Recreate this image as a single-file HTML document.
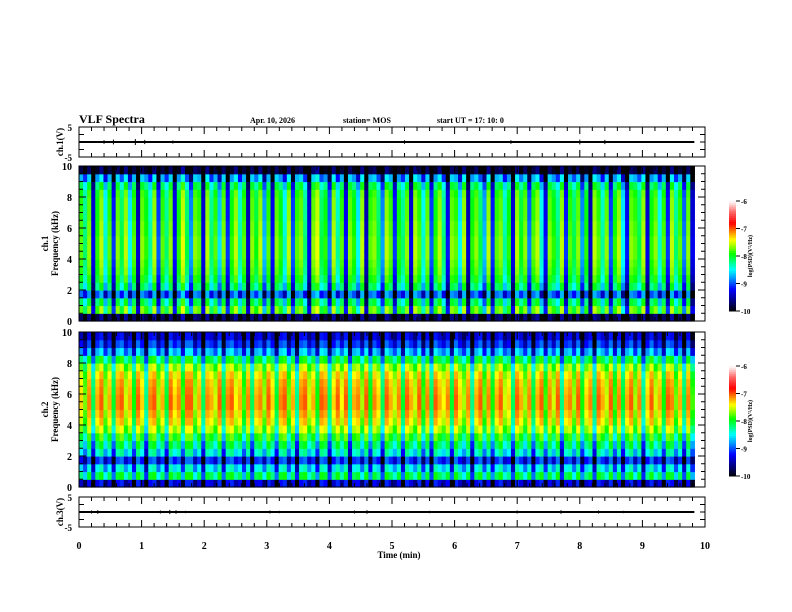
<!DOCTYPE html>
<html><head><meta charset="utf-8"><style>
html,body{margin:0;padding:0;background:#fff;width:792px;height:612px;overflow:hidden}
svg{display:block;font-family:"Liberation Serif",serif;font-weight:bold}
</style></head><body>
<svg id="chart" width="792" height="612" viewBox="0 0 792 612"></svg>
<script>
// ---- data ----
const timeTicks=[0,1,2,3,4,5,6,7,8,9,10];
const freqTicks=[0,2,4,6,8,10];
const cbTicks=[-6,-7,-8,-9,-10];
const ch1FreqProfile=[-9.8,-7.85,-8.2,-9.0,-8.25,-8.05,-7.95,-7.9,-7.85,-7.85,-7.85,-7.9,-7.9,-7.95,-7.95,-7.95,-8.0,-8.2,-8.8,-9.9];
const ch2FreqProfile=[-9.4,-8.2,-8.6,-9.2,-8.5,-8.25,-8.0,-7.7,-7.5,-7.4,-7.3,-7.3,-7.35,-7.4,-7.5,-7.75,-8.15,-8.8,-9.2,-9.45];
const ch1TimeMod=[0.1,-0.3,0.2,-1.4,0.0,0.3,-0.5,0.1,-1.2,0.2,-0.2,0.3,-0.6,0.1,-1.5,0.2,0.0,-0.4,0.3,-1.1,0.1,-0.3,0.2,-1.3,0.0,0.4,-0.2,-0.9,0.2,0.1,-1.4,0.3,-0.3,0.1,-0.7,0.2,-1.2,0.0,0.3,-0.4,0.1,-1.5,0.2,-0.1,0.3,-0.8,0.1,-1.3,0.2,0.0,-0.5,0.3,-1.1,0.1,0.2,-0.3,-1.4,0.2,0.4,-0.2,0.0,-1.0,0.3,-0.4,0.1,-1.3,0.2,0.0,-0.6,0.3,-1.5,0.1,0.2,-0.2,-0.9,0.3,0.1,-1.2,0.0,-0.3,0.2,-1.4,0.3,0.1,-0.5,0.2,-1.1,0.0,0.3,-0.3,-1.3,0.2,0.1,-0.6,0.3,-1.5,0.0,0.2,-0.2,-0.8,0.3,-1.2,0.1,0.2,-0.4,0.0,-1.4,0.3,-0.1,0.2,-1.0,0.1,0.3,-0.5,-1.3,0.2,0.0,-0.3,0.3,-1.2,0.1,-0.2,0.2,-0.9,0.0,-1.5,0.3,0.1,-0.4,0.2,-1.1,0.0,0.3,-0.6,-1.3,0.2,0.1,-0.2,0.3,-1.4,0.0,0.2,-0.5,0.1,-1.2,0.3,-0.3,0.1,-1.0,0.2,-1.4];
const ch2TimeMod=[0.0,-0.4,0.2,-0.8,0.1,0.3,-0.3,0.1,-0.7,0.2,0.3,-0.2,0.1,-0.6,0.3,0.0,-0.9,0.2,0.3,-0.3,0.1,-0.7,0.3,0.0,0.2,-0.5,0.3,0.3,-0.3,0.1,-0.8,0.2,0.1,-0.2,0.3,-0.7,0.2,0.3,-0.1,0.1,-0.5,0.2,-0.8,0.1,0.2,-0.3,0.3,0.0,-0.7,0.2,0.3,-0.4,0.1,-0.9,0.2,0.3,-0.2,0.1,-0.6,0.3,0.2,-0.8,0.0,0.3,-0.1,0.3,-0.9,0.1,0.2,-0.3,0.3,-0.6,0.2,0.0,-0.8,0.3,0.1,-0.2,0.2,-0.7,0.3,0.1,-0.2,0.3,-0.5,0.2,-0.8,0.3,0.1,-0.1,0.2,-0.7,0.3,0.0,-0.3,0.2,-0.9,0.1,0.3,-0.4,0.2,-0.6,0.1,0.3,-0.2,0.0,-0.8,0.3,0.1,-0.3,0.2,-0.7,0.1,0.3,-0.5,0.2,-0.2,0.3,-0.9,0.1,0.2,-0.3,0.3,-0.6,0.0,0.2,-0.8,0.3,0.1,-0.2,0.3,-0.5,0.2,-0.7,0.1,0.3,-0.3,0.2,-0.9,0.0,0.3,-0.2,0.1,-0.6,0.3,0.2,-0.4,0.1,-0.8,0.2,-0.5];
const ch1SpikeTimes=[0.4,0.55,0.9,1.05,1.5,5.2,6.9,8.0,8.4];
const ch1SpikeAmps=[0.6,0.8,1.0,0.7,0.5,0.6,0.6,0.8,0.7];
const ch3SpikeTimes=[0.2,0.3,1.3,1.45,1.55,1.7,3.05,3.2,4.4,4.6,5.6,7.0,7.7,8.3,8.7];
const ch3SpikeAmps=[0.5,0.6,0.5,0.7,0.6,0.4,0.5,0.4,0.5,0.6,0.4,0.5,0.6,0.5,0.4];
const dataEndMin=9.83;

// ---- layout ----
const svg=document.getElementById('chart');
const NS='http://www.w3.org/2000/svg';
const X0=79,X1=705;
const xS=m=>X0+(X1-X0)*m/10;
function el(tag,attrs,parent){const e=document.createElementNS(NS,tag);for(const k in attrs)e.setAttribute(k,attrs[k]);(parent||svg).appendChild(e);return e;}
function txt(s,x,y,size,anchor,parent,rot){const t=el('text',{x:x,y:y,'font-size':size,'text-anchor':anchor||'start'},parent);if(rot)t.setAttribute('transform','rotate(-90 '+x+' '+y+')');t.textContent=s;return t;}

const stops=[[0,[0,0,0]],[0.08,[0,0,110]],[0.2,[0,0,255]],[0.3,[0,150,255]],[0.38,[0,255,255]],[0.45,[0,255,130]],[0.52,[0,255,0]],[0.6,[170,255,0]],[0.65,[255,255,0]],[0.72,[255,140,0]],[0.8,[255,0,0]],[0.9,[255,100,100]],[1,[255,255,255]]];
function cmap(v){let t=(v+10)/4;t=Math.max(0,Math.min(1,t));for(let i=1;i<stops.length;i++){if(t<=stops[i][0]){const a=stops[i-1],b=stops[i];const f=(t-a[0])/(b[0]-a[0]);const c=a[1].map((q,j)=>Math.round(q+(b[1][j]-q)*f));return 'rgb('+c.join(',')+')';}}return '#fff';}

function xTicks(g,yTop,yBot){
  for(let m=0;m<=10.001;m+=0.2){const x=xS(m);const major=Math.abs(m-Math.round(m))<0.01;const L=major?7:4;
    el('line',{x1:x,y1:yTop,x2:x,y2:yTop+L,stroke:'#000','stroke-width':1},g);
    el('line',{x1:x,y1:yBot,x2:x,y2:yBot-L,stroke:'#000','stroke-width':1},g);}
}
function yTicks(g,yTop,yBot,n){for(let i=0;i<=n;i++){const y=yTop+(yBot-yTop)*i/n;el('line',{x1:X0,y1:y,x2:X0+5,y2:y,stroke:'#000'},g);el('line',{x1:X1,y1:y,x2:X1-5,y2:y,stroke:'#000'},g);}}

function timeSeries(name,yTop,yBot,label,spT,spA){
  const g=el('g',{});
  
  
  el('rect',{x:X0,y:yTop,width:X1-X0,height:yBot-yTop,fill:'none',stroke:'#000','stroke-width':1},g);
  const yS=v=>yTop+(5-v)/10*(yBot-yTop);
  const ln=el('line',{x1:xS(0),y1:yS(0),x2:xS(dataEndMin),y2:yS(0),stroke:'#000','stroke-width':2},g);
  
  
  spT.forEach((t,i)=>{const s=el('line',{x1:xS(t),y1:yS(spA[i]),x2:xS(t),y2:yS(-spA[i]),stroke:'#000','stroke-width':1},g);
    
    });
  xTicks(g,yTop,yBot);yTicks(g,yTop,yBot,4);
  txt('5',72,yTop+4,9,'end',g);txt('-5',72,yBot+4,9,'end',g);
  const l=txt(label,63,(yTop+yBot)/2,9,'middle',g,true);
  
  
}

function spectro(name,yTop,yBot,prof,mod,chLabel,cbTop,cbBot){
  const g=el('g',{});
  
  
  const fS=f=>yBot-(yBot-yTop)*f/10;
  const nT=mod.length,nF=prof.length;
  const w=(xS(dataEndMin)-X0)/nT;
  for(let i=0;i<nT;i++)for(let j=0;j<nF;j++){
    const y1=fS((j+1)*10/nF),y0=fS(j*10/nF);
    const r=el('rect',{x:X0+i*w,y:y1,width:w+0.6,height:y0-y1+0.6,fill:cmap(prof[j]+mod[i])},g);
    
    
  }
  el('rect',{x:X0,y:yTop,width:X1-X0,height:yBot-yTop,fill:'none',stroke:'#000'},g);
  xTicks(g,yTop,yBot);
  for(let f=0;f<=10;f+=0.5){const y=fS(f);const L=(f%2===0)?7:4;el('line',{x1:X0,y1:y,x2:X0+L,y2:y,stroke:'#000'},g);el('line',{x1:X1,y1:y,x2:X1-L,y2:y,stroke:'#000'},g);}
  freqTicks.forEach(f=>txt(String(f),72,fS(f)+4,10,'end',g));
  const t1=txt(chLabel,48,(yTop+yBot)/2,9,'middle',g,true);
  
  
  const t2=txt('Frequency (kHz)',58,(yTop+yBot)/2,9,'middle',g,true);
  
  
  const cb=el('g',{},g);
  
  
  const N=60;for(let k=0;k<N;k++){const v=-10+4*(k+0.5)/N;const y=cbBot-(cbBot-cbTop)*(k+1)/N;el('rect',{x:729,y:y,width:7,height:(cbBot-cbTop)/N+0.5,fill:cmap(v)},cb);}
  cbTicks.forEach(v=>{const y=cbBot-(cbBot-cbTop)*(v+10)/4;el('line',{x1:736,y1:y,x2:740,y2:y,stroke:'#000'},cb);txt(String(v),741,y+3,7,'start',cb);});
  txt('log(PSD)(V\u00b2/Hz)',752,(cbTop+cbBot)/2,6,'middle',cb,true);
}

const tt=txt('VLF Spectra',79,123,12,'start');
const d=txt('Apr. 10, 2026',250,123,8,'start');
const st=txt('station= MOS',343,123,8,'start');
const ut=txt('start  UT =   17: 10: 0',437,123,8,'start');

timeSeries('ch1',127,157,'ch.1(V)',ch1SpikeTimes,ch1SpikeAmps);
spectro('ch1',166,321,ch1FreqProfile,ch1TimeMod,'ch.1',201,311);
spectro('ch2',332,487,ch2FreqProfile,ch2TimeMod,'ch.2',366,476);
timeSeries('ch3',497,527,'ch.3(V)',ch3SpikeTimes,ch3SpikeAmps);

timeTicks.forEach(m=>{const t=txt(String(m),xS(m),549,10,'middle');});
const xt=txt('Time (min)',399,558,9,'middle');
</script>
</body></html>
